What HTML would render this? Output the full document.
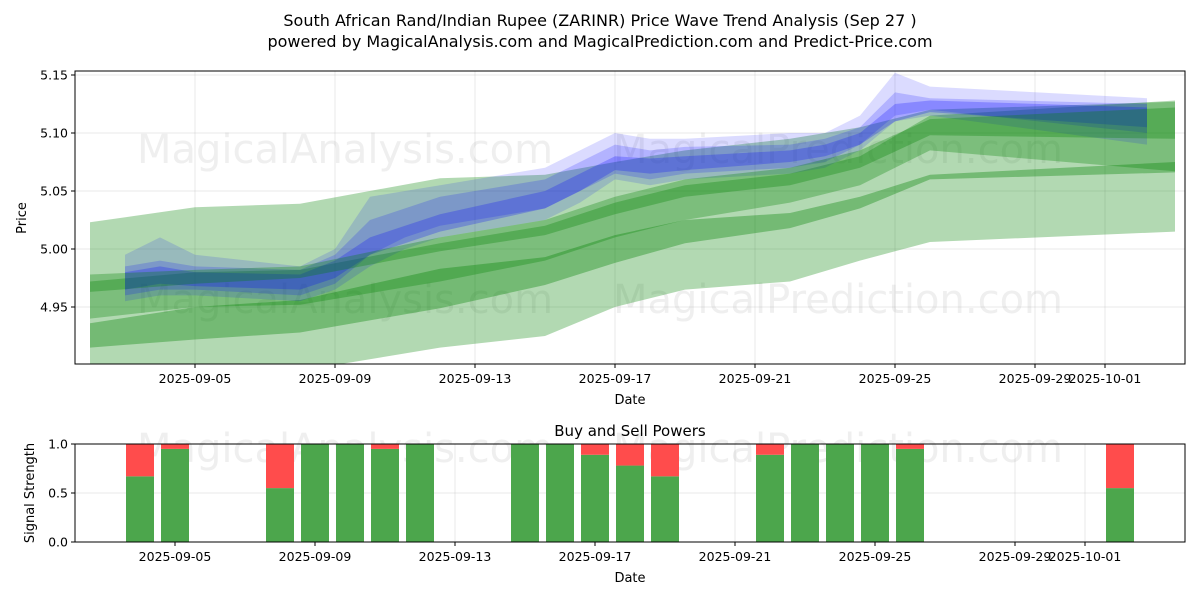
<!DOCTYPE html>
<html><head><meta charset="utf-8"><style>
html,body{margin:0;padding:0;background:#fff;}
svg{display:block;font-family:"DejaVu Sans","Liberation Sans",sans-serif;}
</style></head><body>
<svg id="chart" width="1200" height="600" viewBox="0 0 1200 600" xmlns="http://www.w3.org/2000/svg">
<rect width="1200" height="600" fill="#fff"/>
<text x="600" y="26" text-anchor="middle" font-size="16">South African Rand/Indian Rupee (ZARINR) Price Wave Trend Analysis (Sep 27 )</text>
<text x="600" y="47" text-anchor="middle" font-size="16">powered by MagicalAnalysis.com and MagicalPrediction.com and Predict-Price.com</text>
<g id="topPanel"></g>
<g id="botPanel"></g>
</svg>
<script>
// ---- top chart data ----
const tickDays = [5, 9, 13, 17, 21, 25, 29, 31];
const tickLabels = ["2025-09-05","2025-09-09","2025-09-13","2025-09-17","2025-09-21","2025-09-25","2025-09-29","2025-10-01"];
const priceTicks = [4.95, 5.00, 5.05, 5.10, 5.15];
const priceTickLabels = ["4.95","5.00","5.05","5.10","5.15"];

const greenDays = [2, 5, 8, 12, 15, 17, 19, 22, 24, 26, 33];
const greenAUpper = [5.023, 5.036, 5.039, 5.061, 5.064, 5.075, 5.085, 5.095, 5.105, 5.120, 5.127];
const greenALower = [4.870, 4.890, 4.895, 4.915, 4.925, 4.950, 4.965, 4.972, 4.990, 5.006, 5.015];
const greenBUpper = [4.936, 4.950, 4.956, 4.983, 4.993, 5.012, 5.025, 5.031, 5.045, 5.064, 5.075];
const greenBLower = [4.915, 4.922, 4.928, 4.949, 4.969, 4.988, 5.005, 5.018, 5.035, 5.060, 5.066];
const greenCUpper = [4.972, 4.980, 4.982, 5.005, 5.020, 5.040, 5.055, 5.065, 5.080, 5.115, 5.128];
const greenCLower = [4.940, 4.950, 4.952, 4.972, 4.990, 5.010, 5.025, 5.040, 5.055, 5.085, 5.067];
const greenDUpper = [4.978, 4.982, 4.985, 5.010, 5.025, 5.045, 5.060, 5.070, 5.085, 5.112, 5.122];
const greenDLower = [4.963, 4.970, 4.975, 4.998, 5.012, 5.030, 5.045, 5.055, 5.070, 5.098, 5.095];

const blueDays = [3, 4, 5, 8, 9, 10, 11, 12, 15, 16, 17, 18, 19, 22, 23, 24, 25, 26, 32.2];
const blue1Upper = [4.995,5.010,4.995,4.985,5.000,5.045,5.050,5.055,5.070,5.085,5.100,5.095,5.095,5.100,5.100,5.115,5.152,5.140,5.130];
const blue1Lower = [4.955,4.960,4.960,4.955,4.965,4.985,5.000,5.010,5.025,5.040,5.060,5.055,5.060,5.065,5.070,5.085,5.110,5.115,5.090];
const blue2Upper = [4.985,4.990,4.985,4.982,4.995,5.025,5.035,5.045,5.060,5.075,5.090,5.085,5.088,5.090,5.095,5.105,5.135,5.130,5.125];
const blue2Lower = [4.960,4.965,4.965,4.960,4.970,4.995,5.010,5.020,5.035,5.050,5.065,5.060,5.065,5.070,5.075,5.090,5.115,5.120,5.100];
const blue3Upper = [4.980,4.985,4.980,4.978,4.990,5.010,5.020,5.030,5.050,5.065,5.080,5.078,5.080,5.085,5.090,5.100,5.125,5.128,5.122];
const blue3Lower = [4.965,4.970,4.968,4.965,4.975,4.995,5.005,5.015,5.035,5.050,5.068,5.065,5.068,5.075,5.080,5.090,5.110,5.118,5.105];

// ---- bottom chart data ----
const barDays = [4, 5, 8, 9, 10, 11, 12, 15, 16, 17, 18, 19, 22, 23, 24, 25, 26, 32];
const buyPower = [0.67, 0.95, 0.55, 1, 1, 0.95, 1, 1, 1, 0.89, 0.78, 0.67, 0.89, 1, 1, 1, 0.95, 0.55];
const signalTicks = [0, 0.5, 1.0];
const signalTickLabels = ["0.0","0.5","1.0"];

const NS = "http://www.w3.org/2000/svg";
function mk(parent, tag, attrs){const e=document.createElementNS(NS,tag);for(const k in attrs)e.setAttribute(k,attrs[k]);parent.appendChild(e);return e;}

const T = {l:75, r:1185, t:71, b:364};
const xTop = d => 195 + (d - 5) * 35;
const yTop = p => 133 + (5.10 - p) * 1160;
const B = {l:75, r:1185, t:444, b:542};
const xBot = d => 175 + (d - 5) * 35;
const yBot = v => B.b - v * (B.b - B.t);

const topG = document.getElementById('topPanel');
const botG = document.getElementById('botPanel');

const defs = mk(document.getElementById('chart'),'defs',{});
const c1 = mk(defs,'clipPath',{id:'ct'}); mk(c1,'rect',{x:T.l,y:T.t,width:T.r-T.l,height:T.b-T.t});

tickDays.forEach((d,i)=>{
  const g = mk(topG,'line',{x1:xTop(d),x2:xTop(d),y1:T.t,y2:T.b,stroke:'#b0b0b0','stroke-opacity':0.35,'stroke-width':0.8});
  
  
});
priceTicks.forEach((p,i)=>{
  const g = mk(topG,'line',{x1:T.l,x2:T.r,y1:yTop(p),y2:yTop(p),stroke:'#b0b0b0','stroke-opacity':0.35,'stroke-width':0.8});
  
  
});

function wm(parent,x,y,txt){const t=mk(parent,'text',{x:x,y:y,'font-size':40,fill:'#808080','fill-opacity':0.13,'text-anchor':'middle'});t.textContent=txt;

}
wm(topG,345,163,'MagicalAnalysis.com');wm(topG,838,163,'MagicalPrediction.com');
wm(topG,345,313,'MagicalAnalysis.com');wm(topG,838,313,'MagicalPrediction.com');

const plot = mk(topG,'g',{'clip-path':'url(#ct)'});
function band(days, up, lo, color, op, name){
  let d = '';
  days.forEach((v,i)=>{ d += (i?'L':'M') + xTop(v).toFixed(1) + ',' + yTop(up[i]).toFixed(1); });
  for(let i=days.length-1;i>=0;i--){ d += 'L' + xTop(days[i]).toFixed(1) + ',' + yTop(lo[i]).toFixed(1); }
  const p = mk(plot,'path',{d:d+'Z',fill:color,'fill-opacity':op});
  
  
}
band(greenDays, greenAUpper, greenALower, '#008000', 0.3, 'forecast-band-wide');
band(greenDays, greenBUpper, greenBLower, '#008000', 0.35, 'forecast-band-low');
band(greenDays, greenCUpper, greenCLower, '#008000', 0.3, 'forecast-band-mid');
band(blueDays, blue1Upper, blue1Lower, '#0000ff', 0.14, 'wave-band-outer');
band(blueDays, blue2Upper, blue2Lower, '#0000ff', 0.18, 'wave-band-middle');
band(blueDays, blue3Upper, blue3Lower, '#0000ff', 0.24, 'wave-band-core');
band(greenDays, greenDUpper, greenDLower, '#008000', 0.3, 'forecast-band-center');

mk(topG,'rect',{x:T.l,y:T.t,width:T.r-T.l,height:T.b-T.t,fill:'none',stroke:'#000','stroke-width':1});
tickDays.forEach((d,i)=>{
  mk(topG,'line',{x1:xTop(d),x2:xTop(d),y1:T.b,y2:T.b+4,stroke:'#000'});
  const t = mk(topG,'text',{x:xTop(d),y:T.b+19,'font-size':12.5,'text-anchor':'middle'}); t.textContent=tickLabels[i];
  
  
});
priceTicks.forEach((p,i)=>{
  mk(topG,'line',{x1:T.l-4,x2:T.l,y1:yTop(p),y2:yTop(p),stroke:'#000'});
  const t = mk(topG,'text',{x:T.l-7,y:yTop(p)+4.5,'font-size':12.5,'text-anchor':'end'}); t.textContent=priceTickLabels[i];
  
  
});
let t1 = mk(topG,'text',{x:630,y:404,'font-size':13,'text-anchor':'middle'}); t1.textContent='Date';


let t2 = mk(topG,'text',{x:26,y:218,'font-size':13,'text-anchor':'middle',transform:'rotate(-90 26 218)'}); t2.textContent='Price';



tickDays.forEach(d=>{
  const g = mk(botG,'line',{x1:xBot(d),x2:xBot(d),y1:B.t,y2:B.b,stroke:'#b0b0b0','stroke-opacity':0.35,'stroke-width':0.8});
  
  
});
signalTicks.forEach(v=>{
  const g = mk(botG,'line',{x1:B.l,x2:B.r,y1:yBot(v),y2:yBot(v),stroke:'#b0b0b0','stroke-opacity':0.35,'stroke-width':0.8});
  
  
});
wm(botG,345,462,'MagicalAnalysis.com');wm(botG,838,462,'MagicalPrediction.com');
barDays.forEach((d,i)=>{
  const w = 28, x = xBot(d) - w/2;
  const g = mk(botG,'rect',{x:x,y:yBot(buyPower[i]),width:w,height:yBot(0)-yBot(buyPower[i]),fill:'#4ca64c'});
  
  
  const r = mk(botG,'rect',{x:x,y:yBot(1),width:w,height:yBot(buyPower[i])-yBot(1),fill:'#ff4c4c'});
  
  
});
mk(botG,'rect',{x:B.l,y:B.t,width:B.r-B.l,height:B.b-B.t,fill:'none',stroke:'#000','stroke-width':1});
tickDays.forEach((d,i)=>{
  mk(botG,'line',{x1:xBot(d),x2:xBot(d),y1:B.b,y2:B.b+4,stroke:'#000'});
  const t = mk(botG,'text',{x:xBot(d),y:B.b+19,'font-size':12.5,'text-anchor':'middle'}); t.textContent=tickLabels[i];
  
  
});
signalTicks.forEach((v,i)=>{
  mk(botG,'line',{x1:B.l-4,x2:B.l,y1:yBot(v),y2:yBot(v),stroke:'#000'});
  const t = mk(botG,'text',{x:B.l-7,y:yBot(v)+4.5,'font-size':12.5,'text-anchor':'end'}); t.textContent=signalTickLabels[i];
  
  
});
let t3 = mk(botG,'text',{x:630,y:436,'font-size':15,'text-anchor':'middle'}); t3.textContent='Buy and Sell Powers';


let t4 = mk(botG,'text',{x:630,y:582,'font-size':13,'text-anchor':'middle'}); t4.textContent='Date';


let t5 = mk(botG,'text',{x:34,y:493,'font-size':13,'text-anchor':'middle',transform:'rotate(-90 34 493)'}); t5.textContent='Signal Strength';


</script>
</body></html>
